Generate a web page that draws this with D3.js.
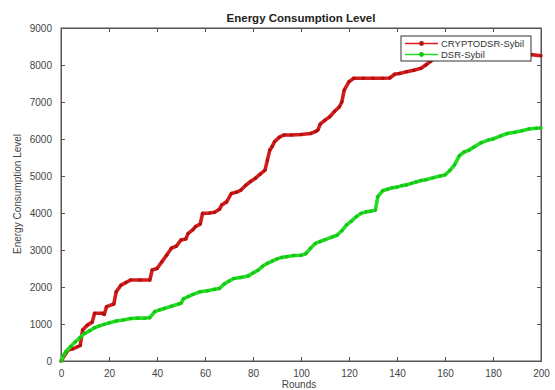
<!DOCTYPE html>
<html>
<head>
<meta charset="utf-8">
<script src="https://cdn.jsdelivr.net/npm/d3@7"></script>
<style>
  html, body { margin: 0; padding: 0; background: #fff; }
  svg { display: block; font-family: "Liberation Sans", Arial, sans-serif; }
</style>
</head>
<body>
<svg id="chart" width="555" height="390"></svg>
<script>
// ---- data ----
const seriesNames = ["CRYPTODSR-Sybil", "DSR-Sybil"];

const cryptoRounds = [0, 2, 3, 5, 7, 8, 9, 11, 13, 14, 17, 18, 19, 22, 23, 25, 27, 29, 33, 37, 38, 40, 42, 44, 46, 48, 50, 52, 53, 55, 56, 58, 59, 62, 64, 66, 67, 69, 71, 73, 75, 77, 79, 81, 83, 85, 86, 87, 88, 89, 91, 93, 96, 100, 104, 106, 107, 108, 110, 112, 114, 116, 117, 118, 120, 122, 126, 130, 134, 137, 139, 141, 144, 147, 150, 152, 154, 156, 160, 170, 180, 190, 196, 200];
const cryptoValues = [0, 200, 300, 330, 390, 420, 840, 970, 1050, 1290, 1290, 1260, 1470, 1540, 1870, 2050, 2120, 2190, 2190, 2190, 2460, 2500, 2680, 2860, 3050, 3100, 3270, 3300, 3450, 3550, 3630, 3700, 3990, 4000, 4020, 4100, 4220, 4300, 4530, 4560, 4620, 4750, 4850, 4940, 5050, 5160, 5430, 5700, 5800, 5930, 6050, 6110, 6110, 6120, 6150, 6200, 6240, 6400, 6510, 6600, 6750, 6870, 7000, 7320, 7550, 7640, 7640, 7640, 7640, 7650, 7750, 7770, 7820, 7860, 7910, 8000, 8100, 8200, 8280, 8280, 8280, 8280, 8280, 8250];

const dsrRounds = [0, 1, 2, 4, 6, 8, 10, 12, 14, 16, 18, 20, 23, 26, 29, 32, 35, 37, 39, 41, 43, 46, 49, 50, 51, 53, 55, 58, 61, 64, 66, 68, 70, 72, 75, 78, 80, 82, 84, 86, 88, 90, 92, 94, 97, 100, 102, 104, 106, 108, 110, 113, 115, 117, 119, 121, 123, 125, 127, 129, 131, 132, 134, 136, 138, 140, 142, 144, 146, 148, 150, 152, 155, 158, 160, 162, 164, 166, 168, 170, 172, 175, 178, 180, 183, 186, 189, 192, 195, 198, 200];
const dsrValues = [0, 150, 250, 390, 520, 640, 750, 820, 900, 950, 990, 1030, 1080, 1110, 1150, 1160, 1160, 1170, 1330, 1380, 1420, 1480, 1540, 1560, 1680, 1740, 1800, 1870, 1900, 1940, 1960, 2080, 2160, 2230, 2260, 2300, 2380, 2450, 2560, 2640, 2700, 2760, 2800, 2820, 2850, 2860, 2900, 3050, 3180, 3230, 3280, 3350, 3400, 3520, 3680, 3780, 3900, 3990, 4030, 4050, 4080, 4440, 4600, 4640, 4680, 4700, 4740, 4760, 4800, 4840, 4880, 4900, 4950, 5000, 5030, 5150, 5300, 5550, 5650, 5700, 5780, 5900, 5970, 6000, 6080, 6150, 6180, 6220, 6270, 6290, 6300];

const xTicks = [0, 20, 40, 60, 80, 100, 120, 140, 160, 180, 200];
const yTicks = [0, 1000, 2000, 3000, 4000, 5000, 6000, 7000, 8000, 9000];

const titleText = "Energy Consumption Level";
const xLabelText = "Rounds";
const yLabelText = "Energy Consumption Level";

// ---- layout ----
const svg = d3.select("#chart");
const L = 61, R = 541, T = 28, B = 361;
const x = d3.scaleLinear().domain([0, 200]).range([L, R]);
const y = d3.scaleLinear().domain([0, 9000]).range([B, T]);

const axisColor = "#555";
const textColor = "#444";

// plot box
svg.append("rect").attr("x", L).attr("y", T).attr("width", R - L).attr("height", B - T)
  .attr("fill", "#fff").attr("stroke", axisColor).attr("stroke-width", 1);

// axes with inward ticks
const fmt = d3.format("d");
const gx = svg.append("g").attr("transform", `translate(0,${B})`)
  .call(d3.axisBottom(x).tickValues(xTicks).tickFormat(fmt).tickSizeInner(-4).tickSizeOuter(0).tickPadding(9));
const gy = svg.append("g").attr("transform", `translate(${L},0)`)
  .call(d3.axisLeft(y).tickValues(yTicks).tickFormat(fmt).tickSizeInner(-4).tickSizeOuter(0).tickPadding(9));
const gxt = svg.append("g").attr("transform", `translate(0,${T})`)
  .call(d3.axisTop(x).tickValues(xTicks).tickFormat("").tickSizeInner(-4).tickSizeOuter(0));
const gyr = svg.append("g").attr("transform", `translate(${R},0)`)
  .call(d3.axisRight(y).tickValues(yTicks).tickFormat("").tickSizeInner(-4).tickSizeOuter(0));
[gx, gy, gxt, gyr].forEach(g => {
  g.select(".domain").attr("stroke", axisColor);
  g.selectAll(".tick line").attr("stroke", axisColor);
  g.selectAll("text").attr("fill", textColor).attr("font-size", "10px")
    .attr("font-family", "'Liberation Sans', Arial, sans-serif");
});

// series
const series = [
  { name: seriesNames[0], rounds: cryptoRounds, values: cryptoValues, color: "#d41c1c", marker: "#b01010" },
  { name: seriesNames[1], rounds: dsrRounds, values: dsrValues, color: "#22dd22", marker: "#14c414" }
];
const line = d3.line().x(d => x(d[0])).y(d => y(d[1]));

series.forEach(s => {
  const pts = s.rounds.map((r, i) => [r, s.values[i]]);
  svg.append("path").datum(pts).attr("d", line)
    .attr("fill", "none").attr("stroke", s.color).attr("stroke-width", 3.6)
    .attr("stroke-linejoin", "round");
  svg.append("g").selectAll("circle").data(pts).join("circle")
    .attr("cx", d => x(d[0])).attr("cy", d => y(d[1])).attr("r", 1.7)
    .attr("fill", s.marker);
});

// legend
const lg = svg.append("g");
lg.append("rect").attr("x", 401).attr("y", 36).attr("width", 130).attr("height", 25)
  .attr("fill", "#fff").attr("stroke", "#333").attr("stroke-width", 1);
series.forEach((s, i) => {
  const yy = 43.5 + i * 11;
  lg.append("line").attr("x1", 405).attr("x2", 438).attr("y1", yy).attr("y2", yy)
    .attr("stroke", s.color).attr("stroke-width", 1.3);
  lg.append("circle").attr("cx", 421.5).attr("cy", yy).attr("r", 2.4).attr("fill", s.marker);
  lg.append("text").attr("x", 441).attr("y", yy + 3.3).text(s.name)
    .attr("font-size", "9.5px").attr("fill", "#333");
});

// title and labels
svg.append("text").attr("x", 301).attr("y", 22).attr("text-anchor", "middle")
  .attr("font-size", "11.5px").attr("font-weight", "bold").attr("fill", "#222").text(titleText);
svg.append("text").attr("x", 299).attr("y", 388).attr("text-anchor", "middle")
  .attr("font-size", "10px").attr("fill", textColor).text(xLabelText);
svg.append("text").attr("transform", "translate(21,194) rotate(-90)").attr("text-anchor", "middle")
  .attr("font-size", "10px").attr("fill", textColor).text(yLabelText);
</script>
</body>
</html>
